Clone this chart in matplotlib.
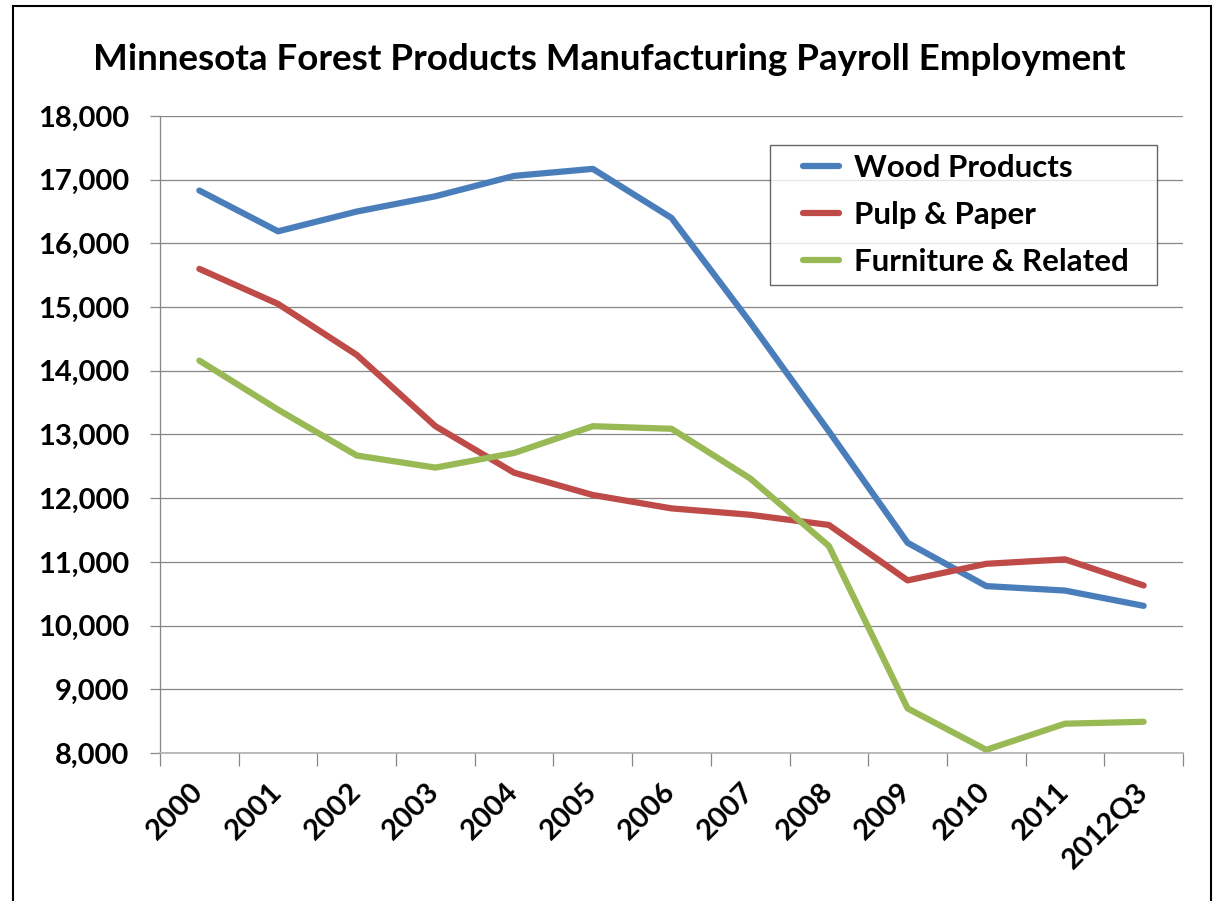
import numpy as np
import matplotlib.pyplot as plt
from matplotlib.lines import Line2D
from matplotlib.legend_handler import HandlerLine2D

plt.rcParams['font.family'] = ['Lato', 'DejaVu Sans']
plt.rcParams['font.weight'] = 'bold'

years = ["2000", "2001", "2002", "2003", "2004", "2005", "2006",
         "2007", "2008", "2009", "2010", "2011", "2012Q3"]
wood = [16830, 16190, 16500, 16740, 17060, 17170, 16400,
        14760, 13050, 11300, 10620, 10550, 10310]
pulp = [15600, 15050, 14250, 13130, 12400, 12050, 11840,
        11740, 11580, 10710, 10970, 11040, 10630]
furniture = [14160, 13390, 12670, 12480, 12710, 13130, 13090,
             12310, 11250, 8700, 8050, 8460, 8490]

c_wood = "#4A7EBB"
c_pulp = "#BE4B48"
c_furn = "#98B954"
grid_c = "#878787"


class ShortLine(HandlerLine2D):
    # excel-style legend: short line sitting to the right of a wider gap
    def get_xdata(self, legend, xdescent, ydescent, width, height, fontsize):
        xd, xm = super().get_xdata(legend, xdescent, ydescent, width, height, fontsize)
        x0 = -xdescent + width * 0.39
        return np.array([x0, -xdescent + width]), xm


fig = plt.figure(figsize=(12.13, 9.01), dpi=100)
ax = fig.add_axes([160/1213, 1-753/901, (1183-160)/1213, (753-116)/901])

x = np.arange(len(years))
kw = dict(lw=4.5, solid_capstyle='round', solid_joinstyle='round')
ax.plot(x, wood, color=c_wood, label="Wood Products", **kw)
ax.plot(x, pulp, color=c_pulp, label="Pulp & Paper", **kw)
ax.plot(x, furniture, color=c_furn, label="Furniture & Related", **kw)

ax.set_ylim(8000, 18000)
ax.set_xlim(-0.5, len(years) - 0.5)
ax.set_yticks(np.arange(8000, 18001, 1000))
ax.set_yticklabels([f"{v:,}" for v in range(8000, 18001, 1000)])
ax.yaxis.grid(True, color=grid_c, lw=0.9)
ax.set_axisbelow(True)

# category boundaries get the tick marks, centres get the labels
ax.set_xticks(np.arange(-0.5, len(years)), minor=False)
ax.set_xticklabels([])
ax.set_xticks(x, minor=True)
ax.set_xticklabels(years, minor=True, rotation=45, ha='right', va='center',
                   rotation_mode='anchor')
ax.tick_params(axis='x', which='major', direction='out', length=9.5, color=grid_c, width=0.9)
ax.tick_params(axis='x', which='minor', length=0, pad=25, labelsize=21)
ax.tick_params(axis='y', direction='out', length=7, color=grid_c, width=0.9, pad=15, labelsize=21)

for s in ['top', 'right']:
    ax.spines[s].set_visible(False)
ax.spines['left'].set_color(grid_c)
ax.spines['bottom'].set_color("#b0b0b0")
ax.spines['left'].set_linewidth(0.9)
ax.spines['bottom'].set_linewidth(1.2)

leg = ax.legend(loc='upper left',
                bbox_to_anchor=(770/1213, 1-287/901, 387/1213, 142/901),
                bbox_transform=fig.transFigure, mode='expand', fontsize=22.5,
                frameon=True, fancybox=False, edgecolor="#404040",
                handlelength=1.9, handletextpad=0.48, borderpad=0.3,
                labelspacing=0.6, borderaxespad=0,
                handler_map={Line2D: ShortLine()})
leg.get_frame().set_linewidth(1.0)
for t in leg.get_texts():
    t.set_fontweight('bold')

fig.text(0.502, 1-60/901, "Minnesota Forest Products Manufacturing Payroll Employment",
         ha='center', va='center', fontsize=26.5, fontweight='bold')

# chart border
for xs, ys in [([13, 13], [0, 895]), ([13, 1211], [895, 895]), ([1211, 1211], [0, 895])]:
    fig.add_artist(Line2D([v/1213 for v in xs], [v/901 for v in ys],
                          transform=fig.transFigure, color='black', lw=1.5))

fig.savefig("out.png", dpi=100)
